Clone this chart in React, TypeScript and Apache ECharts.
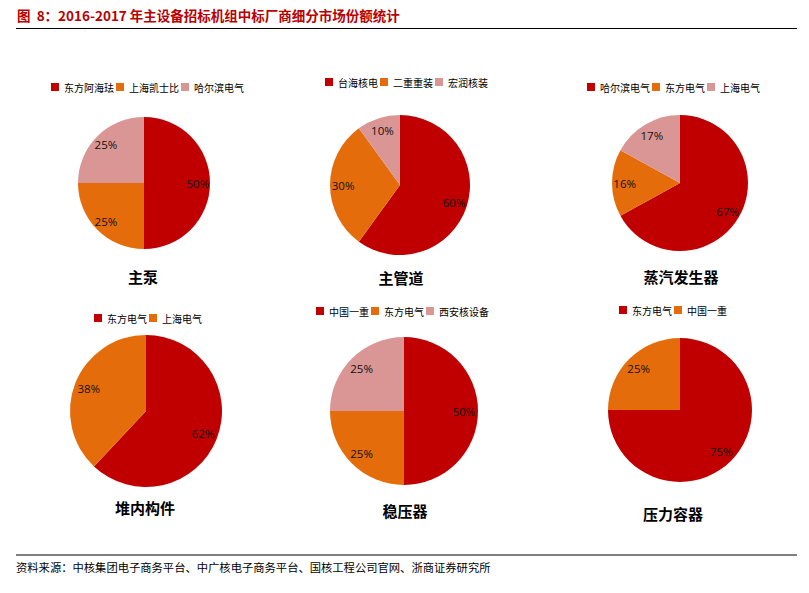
import React, { useEffect, useRef } from "react";
import * as echarts from "echarts";

// ---- data ----
const pumpNames = ["东方阿海珐", "上海凯士比", "哈尔滨电气"];
const pumpShares = [50, 25, 25];
const pipeNames = ["台海核电", "二重重装", "宏润核装"];
const pipeShares = [60, 30, 10];
const sgNames = ["哈尔滨电气", "东方电气", "上海电气"];
const sgShares = [67, 16, 17];
const internalsNames = ["东方电气", "上海电气"];
const internalsShares = [62, 38];
const pressurizerNames = ["中国一重", "东方电气", "西安核设备"];
const pressurizerShares = [50, 25, 25];
const vesselNames = ["东方电气", "中国一重"];
const vesselShares = [75, 25];
const chartTitles = ["主泵", "主管道", "蒸汽发生器", "堆内构件", "稳压器", "压力容器"];

const headline = "图  8：2016-2017 年主设备招标机组中标厂商细分市场份额统计";
const sourceNote =
  "资料来源：中核集团电子商务平台、中广核电子商务平台、国核工程公司官网、浙商证券研究所";

const palette = ["#C00000", "#E46C0A", "#D99694"];

// ---- layout (positions only) ----
const layouts = [
  { cx: 144, cy: 183, r: 66, legendLeft: 51, legendTop: 82, titleX: 143, titleY: 276 },
  { cx: 400, cy: 185, r: 70, legendLeft: 325, legendTop: 77, titleX: 401, titleY: 277 },
  { cx: 680, cy: 183, r: 68, legendLeft: 587, legendTop: 82, titleX: 681, titleY: 276 },
  { cx: 146, cy: 411, r: 76, legendLeft: 94, legendTop: 313, titleX: 145, titleY: 507 },
  { cx: 404, cy: 411, r: 74, legendLeft: 316, legendTop: 306, titleX: 405, titleY: 510 },
  { cx: 680, cy: 410, r: 72, legendLeft: 619, legendTop: 305, titleX: 673, titleY: 513 },
];

const groups = [
  { names: pumpNames, values: pumpShares },
  { names: pipeNames, values: pipeShares },
  { names: sgNames, values: sgShares },
  { names: internalsNames, values: internalsShares },
  { names: pressurizerNames, values: pressurizerShares },
  { names: vesselNames, values: vesselShares },
];

export default function App() {
  const ref = useRef<HTMLDivElement>(null);

  useEffect(() => {
    if (!ref.current) return;
    const chart = echarts.init(ref.current, null, { renderer: "svg" });

    const series: any[] = [];
    const legends: any[] = [];
    const titles: any[] = [];

    groups.forEach((g, i) => {
      const L = layouts[i];
      const data = g.names.map((n, k) => ({
        name: n,
        value: g.values[k],
        itemStyle: { color: palette[k] },
      }));
      series.push({
        type: "pie",
        center: [L.cx, L.cy],
        radius: [0, L.r],
        startAngle: 90,
        clockwise: true,
        silent: true,
        label: { show: false },
        labelLine: { show: false },
        emphasis: { disabled: true },
        itemStyle: { borderWidth: 0 },
        data,
      });
      // label carrier ring (transparent) so labels sit at ~0.77 r
      series.push({
        type: "pie",
        center: [L.cx, L.cy],
        radius: [L.r * 0.54, L.r],
        startAngle: 90,
        clockwise: true,
        silent: true,
        emphasis: { disabled: true },
        itemStyle: { color: "rgba(0,0,0,0)", borderWidth: 0 },
        label: {
          show: true,
          position: "inside",
          formatter: "{c}%",
          color: "#111",
          fontSize: 11.5,
          fontFamily: "Open Sans",
        },
        labelLine: { show: false },
        data: g.names.map((n, k) => ({ name: n, value: g.values[k] })),
      });
      legends.push({
        left: L.legendLeft,
        top: L.legendTop,
        padding: 0,
        itemWidth: 8,
        itemHeight: 8,
        itemGap: 2,
        icon: "rect",
        selectedMode: false,
        textStyle: { fontSize: 10, color: "#000", fontFamily: "Noto Sans CJK SC" },
        data: g.names.map((n, k) => ({ name: n, itemStyle: { color: palette[k] } })),
      });
      titles.push({
        text: chartTitles[i],
        left: L.titleX,
        top: L.titleY,
        textAlign: "center",
        textVerticalAlign: "middle",
        padding: 0,
        textStyle: {
          fontSize: 15,
          fontWeight: "bold",
          color: "#000",
          fontFamily: "Noto Sans CJK SC",
        },
      });
    });

    titles.push({
      text: headline,
      left: 17,
      top: 15,
      textVerticalAlign: "middle",
      padding: 0,
      textStyle: {
        fontSize: 13.5,
        fontWeight: "bold",
        color: "#B80000",
        fontFamily: "Noto Sans CJK SC",
      },
    });
    titles.push({
      text: sourceNote,
      left: 16,
      top: 567,
      textVerticalAlign: "middle",
      padding: 0,
      textStyle: {
        fontSize: 11.3,
        fontWeight: "normal",
        color: "#000",
        fontFamily: "Noto Sans CJK SC",
      },
    });

    chart.setOption({
      animation: false,
      backgroundColor: "#fff",
      title: titles,
      legend: legends,
      series,
      graphic: [
        {
          type: "line",
          shape: { x1: 16, y1: 28.5, x2: 797, y2: 28.5 },
          style: { stroke: "#000", lineWidth: 1.2 },
          silent: true,
        },
        {
          type: "line",
          shape: { x1: 16, y1: 555, x2: 797, y2: 555 },
          style: { stroke: "#000", lineWidth: 1.2 },
          silent: true,
        },
      ],
    });

    return () => chart.dispose();
  }, []);

  return (
    <div
      ref={ref}
      style={{ position: "absolute", left: 0, top: 0, width: 809, height: 593 }}
    />
  );
}
